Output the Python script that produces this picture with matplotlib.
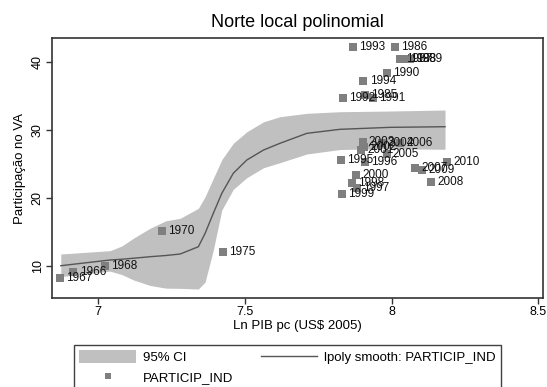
import matplotlib
matplotlib.use("Agg")
import matplotlib.pyplot as plt
from matplotlib.patches import Patch
from matplotlib.lines import Line2D

plt.rcParams['font.family'] = ['Liberation Sans', 'DejaVu Sans']

# Scatter data: year labels, ln GDP pc, share of value added
years = [1966, 1967, 1968, 1970, 1975, 1985, 1986, 1987, 1988, 1989, 1990,
         1991, 1992, 1993, 1994, 1995, 1996, 1997, 1998, 1999, 2000, 2001,
         2002, 2003, 2004, 2005, 2006, 2007, 2008, 2009, 2010]
lnpib = [6.915, 6.869, 7.023, 7.216, 7.426, 7.909, 8.012, 8.029, 8.042, 8.063,
         7.983, 7.937, 7.833, 7.869, 7.904, 7.826, 7.909, 7.881, 7.864, 7.830,
         7.879, 7.895, 7.905, 7.901, 7.966, 7.983, 8.029, 8.080, 8.134, 8.103,
         8.188]
particip = [9.12, 8.24, 9.96, 15.15, 11.97, 35.1, 42.1, 40.35, 40.35, 40.35,
            38.4, 34.7, 34.7, 42.1, 37.2, 25.6, 25.3, 21.4, 22.1, 20.5, 23.4,
            27.0, 27.4, 28.2, 28.0, 26.4, 28.0, 24.4, 22.35, 24.1, 25.2]

# Local polynomial smooth and 95% CI
grid_x = [6.872, 7.040, 7.080, 7.120, 7.176, 7.230, 7.279, 7.341, 7.364,
          7.392, 7.421, 7.460, 7.506, 7.563, 7.619, 7.711, 7.824, 7.995, 8.182]
fit_y = [10.0, 10.84, 10.95, 11.1, 11.32, 11.5, 11.72, 12.79, 14.76, 17.71,
         20.65, 23.59, 25.54, 27.01, 28.0, 29.47, 30.06, 30.35, 30.44]
ci_upper = [11.72, 12.21, 12.9, 14.05, 15.5, 16.6, 16.97, 18.44, 20.15,
            22.85, 25.6, 28.0, 29.69, 31.16, 31.91, 32.41, 32.65, 32.75, 32.9]
ci_lower = [8.4, 9.2, 8.7, 7.9, 7.1, 6.7, 6.67, 6.57, 7.6, 12.31, 18.19,
            21.23, 22.94, 24.41, 25.15, 26.43, 27.09, 27.21, 27.12]

xticks = [7, 7.5, 8, 8.5]
xticklabels = ["7", "7.5", "8", "8.5"]
yticks = [10, 20, 30, 40]

W, H = 547, 387
fig = plt.figure(figsize=(W / 100, H / 100), dpi=100)
ax = fig.add_axes([52 / W, 1 - 298 / H, (543 - 52) / W, (298 - 38) / H])

ax.fill_between(grid_x, ci_lower, ci_upper, color='#c0c0c0', lw=0, zorder=1)
ax.plot(grid_x, fit_y, color='#555555', lw=1.0, zorder=2)
ax.scatter(lnpib, particip, marker='s', s=26, color='#7f7f7f', lw=0, zorder=3)
for yr, xv, yv in zip(years, lnpib, particip):
    ax.annotate(str(yr), (xv, yv), xytext=(4.5, 0), textcoords='offset points',
                va='center', ha='left', fontsize=8.5, color='#111111', zorder=4)

ax.set_xlim(6.842, 8.516)
ax.set_ylim(5.25, 43.49)
ax.set_xticks(xticks)
ax.set_xticklabels(xticklabels)
ax.set_yticks(yticks)
ax.set_yticklabels([str(v) for v in yticks], rotation=90, va='center')
ax.tick_params(direction='out', length=4, width=1, color='#333333',
               labelsize=9, pad=2)
for s in ax.spines.values():
    s.set_color('#333333')
    s.set_linewidth(1.2)

ax.set_title("Norte local polinomial", fontsize=13, pad=8)
ax.set_xlabel("Ln PIB pc (US$ 2005)", fontsize=9.5, labelpad=1)
ax.set_ylabel("Participação no VA", fontsize=9.5, labelpad=4)

handles = [Patch(facecolor='#c0c0c0', edgecolor='none'),
           Line2D([], [], marker='s', ls='none', color='#7f7f7f', markersize=5,
                  markeredgewidth=0),
           Line2D([], [], color='#555555', lw=1.0)]
labels = ["95% CI", "PARTICIP_IND", "lpoly smooth: PARTICIP_IND"]
leg = fig.legend(handles, labels, ncol=2, loc='upper left',
                 bbox_to_anchor=(74 / W, 1 - 345 / H), borderaxespad=0,
                 frameon=True, fancybox=False, edgecolor='#111111',
                 fontsize=9.5, handlelength=4.3, handleheight=1.1,
                 handletextpad=0.5, columnspacing=2.1, labelspacing=0.5,
                 borderpad=0.4)
leg.get_frame().set_linewidth(1.0)

fig.savefig("out.png", dpi=100)
